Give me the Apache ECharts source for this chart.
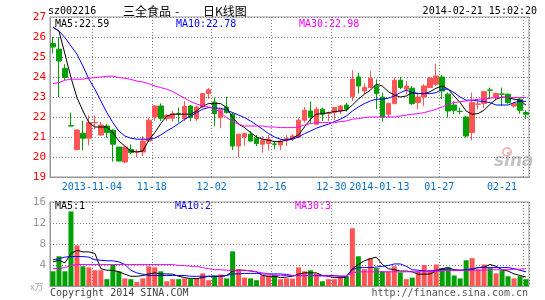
<!DOCTYPE html>
<html>
<head>
<meta charset="utf-8">
<script src="https://cdn.jsdelivr.net/npm/echarts@6/dist/echarts.min.js"></script>
<style>
  html,body{margin:0;padding:0;background:#fff;}
  #main{width:545px;height:300px;}
</style>
</head>
<body>
<div id="main"></div>
<script>
// trading days, 2013-10-24 .. 2014-02-21
let dates = ['2013-10-24','2013-10-25','2013-10-28','2013-10-29','2013-10-30','2013-10-31','2013-11-01','2013-11-04','2013-11-05','2013-11-06',
  '2013-11-07','2013-11-08','2013-11-11','2013-11-12','2013-11-13','2013-11-14','2013-11-15','2013-11-18','2013-11-19','2013-11-20',
  '2013-11-21','2013-11-22','2013-11-25','2013-11-26','2013-11-27','2013-11-28','2013-11-29','2013-12-02','2013-12-03','2013-12-04',
  '2013-12-05','2013-12-06','2013-12-09','2013-12-10','2013-12-11','2013-12-12','2013-12-13','2013-12-16','2013-12-17','2013-12-18',
  '2013-12-19','2013-12-20','2013-12-23','2013-12-24','2013-12-25','2013-12-26','2013-12-27','2013-12-30','2013-12-31','2014-01-03',
  '2014-01-06','2014-01-07','2014-01-08','2014-01-09','2014-01-10','2014-01-13','2014-01-14','2014-01-15','2014-01-16','2014-01-17',
  '2014-01-20','2014-01-21','2014-01-22','2014-01-23','2014-01-24','2014-01-27','2014-01-28','2014-01-29','2014-01-30','2014-02-07',
  '2014-02-10','2014-02-11','2014-02-12','2014-02-13','2014-02-14','2014-02-17','2014-02-18','2014-02-19','2014-02-20','2014-02-21']

let tickDates = ['2013-11-04','2013-11-18','2013-12-02','2013-12-16','2013-12-30','2014-01-13','2014-01-27','2014-02-21']
let tickLabels = ['2013-11-04','11-18','12-02','12-16','12-30','2014-01-13','01-27','02-21']

let open = [25.67,25.39,24.42,21.56,20.37,21.19,20.94,21.71,21.1,21.55, 21.34,20.5,19.75,20.38,20.25,20.25,20.8,22.0,22.55,21.92,
  21.94,22.18,21.92,22.55,21.92,22.5,23.17,22.75,21.97,22.5, 22.14,20.55,21.0,21.14,20.94,20.64,20.67,20.65,20.6,20.84,
  20.92,21.0,21.84,22.3,21.64,22.39,22.17,22.22,22.3,22.6, 23.02,24.0,23.3,23.47,23.55,23.0,22.14,22.67,23.84,23.39,
  23.44,22.72,23.0,23.47,23.64,24.0,23.14,22.6,22.28,22.0, 21.22,22.64,22.67,23.35,23.0,23.15,23.14,22.55,22.89,22.22]
let close = [25.5,24.8,23.97,21.55,21.35,20.94,21.72,21.72,21.6,21.22, 20.64,19.8,20.5,20.22,20.26,20.8,21.84,22.55,21.94,22.08,
  22.17,22.17,22.53,21.97,22.5,23.17,23.36,22.17,22.39,22.22, 20.55,21.14,21.17,20.8,20.67,20.84,20.9,20.64,20.8,20.92,
  21.05,21.84,22.34,22.0,22.39,22.14,22.18,22.47,22.55,22.39, 23.9,23.55,23.47,23.94,23.17,22.0,22.67,23.84,23.47,23.55,
  22.67,23.0,23.55,23.94,24.05,23.3,22.3,22.34,22.27,21.05, 22.72,22.65,23.27,23.34,23.17,23.14,22.72,22.67,22.34,22.14]
let low = [25.17,23.0,23.84,21.55,20.33,20.33,20.58,21.39,21.07,20.97, 19.77,19.77,19.7,20.13,20.0,20.05,20.77,21.8,21.8,21.8,
  21.77,21.72,21.8,21.8,21.8,22.47,22.9,21.55,21.44,22.17, 20.34,20.0,20.55,20.77,20.55,20.22,20.34,20.39,20.34,20.55,
  20.8,20.94,21.72,21.67,21.64,21.8,21.8,21.84,22.14,22.27, 22.8,23.17,23.14,23.44,22.39,21.77,21.97,22.64,23.39,23.14,
  22.6,22.39,22.55,23.44,23.55,22.89,21.97,22.14,22.14,20.97, 20.84,22.39,22.44,22.89,22.84,22.55,22.67,22.47,22.17,21.89]
let high = [26.0,26.0,24.64,22.22,21.37,21.8,22.08,22.08,21.75,21.64, 21.39,20.5,20.55,20.63,20.38,21.05,21.97,22.6,22.67,22.14,
  22.3,22.47,22.8,22.6,22.55,23.2,23.45,22.97,22.4,23.02, 22.22,21.17,21.22,21.3,21.1,21.05,21.1,20.8,20.89,21.1,
  21.14,21.97,22.5,22.77,22.5,22.47,22.27,22.5,22.6,22.72, 24.34,24.22,23.67,24.3,23.88,23.22,22.72,23.97,24.0,23.8,
  23.55,23.22,23.64,24.0,24.67,24.1,23.22,22.8,22.47,22.05, 23.22,22.89,23.3,23.47,23.22,23.47,23.17,22.72,22.94,22.34]

let ma5 = [26.5,26.3,25.15,23.97,22.97,22.3,21.72,21.5,21.5,21.5, 21.22,20.8,20.55,20.3,20.25,20.3,20.84,21.22,21.67,22.05,
  22.14,22.14,22.14,22.14,22.3,22.55,22.67,22.67,22.67,22.47, 21.97,21.64,21.47,21.22,21.0,20.89,20.84,20.77,20.77,20.84,
  20.94,21.1,21.5,21.89,22.14,22.17,22.22,22.27,22.3,22.34, 22.6,22.89,23.14,23.34,23.64,23.55,23.27,23.1,23.0,23.05,
  23.22,23.17,23.17,23.27,23.44,23.55,23.39,23.05,22.72,22.3, 22.14,22.17,22.34,22.64,22.89,23.0,22.97,22.89,22.84,22.59]
let ma10 = [26.47,26.3,25.97,25.55,25.14,24.55,23.89,23.39,22.8,22.22, 21.72,21.3,21.05,20.94,20.89,20.89,20.89,20.94,21.1,21.3,
  21.47,21.67,21.89,22.05,22.22,22.39,22.47,22.44,22.44,22.34, 22.22,22.1,21.97,21.8,21.6,21.39,21.17,21.0,20.89,20.84,
  20.89,21.0,21.17,21.3,21.44,21.55,21.64,21.77,21.89,22.05, 22.3,22.5,22.67,22.8,22.89,22.89,22.94,23.05,23.22,23.34,
  23.22,23.17,23.17,23.17,23.22,23.39,23.39,23.22,23.0,22.84, 22.84,22.8,22.77,22.72,22.6,22.6,22.6,22.72,22.8,22.78]
let ma30 = [23.67,23.72,23.84,23.89,23.89,23.89,23.94,23.97,24.0,24.04, 24.04,23.97,23.94,23.88,23.8,23.75,23.67,23.55,23.47,23.39,
  23.27,23.1,22.94,22.77,22.65,22.57,22.5,22.44,22.22,21.97, 21.77,21.64,21.55,21.55,21.55,21.55,21.5,21.5,21.47,21.47,
  21.47,21.5,21.6,21.67,21.72,21.72,21.72,21.72,21.77,21.8, 21.89,21.92,21.97,22.0,22.0,22.0,22.0,22.0,22.05,22.09,
  22.14,22.17,22.22,22.3,22.39,22.5,22.64,22.72,22.77,22.8, 22.84,22.89,22.89,22.94,22.97,22.97,22.97,22.97,22.97,22.98]

// volume, 万手
let vol = [2.8,5.66,2.8,14.2,7.75,3.75,3.55,3.0,3.0,1.3, 4.1,2.8,1.45,1.3,0.75,1.45,3.75,3.55,2.8,0.9,
  1.3,1.3,1.45,1.3,1.45,2.4,1.1,2.0,2.2,1.45, 6.6,3.2,1.6,1.45,1.1,2.0,2.0,2.15,1.3,1.45,
  1.4,3.55,2.8,3.0,2.4,0.9,1.3,1.3,1.85,1.85, 11.0,5.66,3.2,5.3,3.4,2.8,2.8,3.75,2.6,1.3,
  1.6,2.8,4.0,3.0,4.1,3.4,3.55,2.0,1.45,4.9, 5.3,3.2,4.1,3.4,2.4,3.0,1.85,1.45,1.85,1.3]
let volMa5 = [4.6,4.9,4.4,6.2,6.8,6.5,6.5,6.2,3.3,3.0, 3.0,2.7,2.25,1.85,1.85,2.0,2.3,2.5,2.3,2.3,
  2.25,1.85,1.6,1.4,1.4,1.6,1.85,1.85,1.85,2.0, 2.85,3.0,3.0,2.85,2.7,2.0,1.85,1.85,1.6,1.7,
  1.85,2.25,2.5,2.5,2.5,2.0,1.85,1.6,1.6,1.7, 3.3,4.1,4.8,5.2,5.5,4.1,3.3,3.1,2.85,2.85,
  2.7,2.25,2.25,2.3,2.85,3.3,3.5,3.1,3.0,3.0, 3.1,3.5,3.6,4.1,3.75,3.1,2.85,2.3,2.0,1.7]
let volMa10 = [5.0,5.2,5.5,5.6,5.6,5.6,5.5,5.0,4.9,4.8, 4.8,4.6,4.1,3.0,2.5,2.25,2.0,2.0,2.0,2.0,
  2.0,2.0,2.0,1.85,1.85,1.85,1.85,1.85,1.85,2.0, 2.3,2.3,2.4,2.4,2.4,2.3,2.3,2.3,2.3,2.2,
  2.0,2.0,2.0,2.0,2.0,2.0,2.0,2.0,1.85,1.85, 3.1,3.5,3.5,3.5,3.6,3.75,3.9,4.2,4.2,3.75,
  3.1,3.0,2.85,2.85,3.0,3.1,3.1,3.0,3.0,3.1, 3.3,3.5,3.5,3.5,3.5,3.5,3.5,3.3,3.0,2.7]
let volMa30 = [3.3,3.3,3.5,3.9,4.1,4.1,4.1,4.1,4.1,4.1, 4.1,4.1,4.1,4.1,4.1,4.1,4.1,4.1,4.1,4.1,
  4.1,3.9,3.9,3.75,3.75,3.5,3.3,3.1,3.1,3.0, 3.0,3.0,3.0,2.9,2.7,2.5,2.3,2.0,2.0,2.0,
  1.95,1.95,1.95,1.95,1.9,1.9,1.9,1.9,1.9,1.9, 2.5,2.7,2.7,2.7,2.7,2.7,2.7,2.7,2.7,2.7,
  2.7,2.7,2.7,2.75,2.8,2.9,3.0,3.0,3.0,3.0, 3.0,3.0,3.0,3.1,3.1,3.1,3.1,3.2,3.2,3.3]

let upColor = '#ff5555'
let downColor = '#00a000'
let mono = '"DejaVu Sans Mono", monospace'

let kdata = dates.map((d, i) => [open[i], close[i], low[i], high[i]])
let isTick = (i, v) => tickDates.indexOf(v) >= 0

let instance = echarts.init(document.getElementById('main'))

let gridLine = { show: true, lineStyle: { color: '#808080', type: [1, 2], width: 1 } }

function maLine(name, data, color, xi, yi) {
  return {
    name: name, type: 'line', data: data, xAxisIndex: xi, yAxisIndex: yi,
    symbol: 'none', silent: true,
    lineStyle: { color: color, width: 1 }
  }
}

function txt(text, x, y, color, font, align) {
  return {
    type: 'text', x: x, y: y, silent: true,
    style: { text: text, fill: color, font: font, align: align || 'left', verticalAlign: 'middle' }
  }
}

let option = {
  animation: false,
  grid: [
    { left: 50, top: 17, width: 479, height: 160, show: true, borderColor: '#999', borderWidth: 1 },
    { left: 50, top: 202, width: 479, height: 84, show: true, borderColor: '#999', borderWidth: 1 }
  ],
  xAxis: [
    {
      type: 'category', data: dates, gridIndex: 0, boundaryGap: true,
      axisLine: { lineStyle: { color: '#999' } },
      axisTick: { show: false },
      axisLabel: {
        interval: isTick,
        margin: 5,
        color: '#0a6fc2',
        fontFamily: mono,
        fontSize: 10,
        formatter: function (v) {
          let k = tickDates.indexOf(v)
          if (k < 0) return ''
          return k === tickDates.length - 1 ? '{e|' + tickLabels[k] + '}' : '{n|' + tickLabels[k] + '}'
        },
        rich: {
          n: { padding: [0, 6, 0, 0], color: '#0a6fc2', fontFamily: mono, fontSize: 10 },
          e: { padding: [0, 48, 0, 0], color: '#0a6fc2', fontFamily: mono, fontSize: 10 }
        }
      },
      splitLine: Object.assign({ interval: isTick }, gridLine)
    },
    {
      type: 'category', data: dates, gridIndex: 1, boundaryGap: true,
      axisLine: { lineStyle: { color: '#999' } },
      axisTick: { show: false },
      axisLabel: { show: false },
      splitLine: Object.assign({ interval: isTick }, gridLine)
    }
  ],
  yAxis: [
    {
      type: 'value', gridIndex: 0, min: 19, max: 27, interval: 1,
      axisLine: { show: true, lineStyle: { color: '#999' } },
      axisTick: { show: false },
      axisLabel: { color: '#ff0000', fontFamily: mono, fontSize: 11, margin: 4 },
      splitLine: gridLine
    },
    {
      type: 'value', gridIndex: 1, min: 0, max: 16, interval: 4,
      axisLine: { show: true, lineStyle: { color: '#999' } },
      axisTick: { show: false },
      axisLabel: {
        color: '#999', fontFamily: mono, fontSize: 11, margin: 4,
        formatter: v => (v === 0 ? '' : v)
      },
      splitLine: gridLine
    }
  ],
  series: [
    {
      name: 'K', type: 'candlestick', data: kdata, xAxisIndex: 0, yAxisIndex: 0,
      barWidth: 5,
      itemStyle: { color: upColor, color0: downColor, borderColor: upColor, borderColor0: downColor, borderWidth: 1 }
    },
    maLine('MA5', ma5, '#000000', 0, 0),
    maLine('MA10', ma10, '#0000ff', 0, 0),
    maLine('MA30', ma30, '#ff00ff', 0, 0),
    {
      name: 'VOL', type: 'bar', data: vol, xAxisIndex: 1, yAxisIndex: 1,
      barWidth: 5,
      itemStyle: {
        color: p => (close[p.dataIndex] >= open[p.dataIndex] ? upColor : downColor)
      }
    },
    maLine('VMA5', volMa5, '#000000', 1, 1),
    maLine('VMA10', volMa10, '#0000ff', 1, 1),
    maLine('VMA30', volMa30, '#ff00ff', 1, 1)
  ],
  graphic: [
    txt('sz002216', 48, 11, '#000', '10px ' + mono),
    txt('三全食品', 123, 11, '#000', '12px "Noto Sans CJK SC"'),
    txt('-', 175, 11, '#000', '12px "Noto Sans CJK SC"'),
    txt('日K线图', 203, 11, '#000', '12px "Noto Sans CJK SC"'),
    txt('2014-02-21 15:02:20', 537, 11, '#000', '10px ' + mono, 'right'),
    txt('MA5:' + ma5[ma5.length - 1].toFixed(2), 55, 24, '#000', '10px ' + mono),
    txt('MA10:' + ma10[ma10.length - 1].toFixed(2), 176, 24, '#0000ff', '10px ' + mono),
    txt('MA30:' + ma30[ma30.length - 1].toFixed(2), 299, 24, '#ff00ff', '10px ' + mono),
    txt('MA5:' + Math.floor(volMa5[volMa5.length - 1]), 55, 206, '#000', '10px ' + mono),
    txt('MA10:' + Math.floor(volMa10[volMa10.length - 1]), 175, 206, '#0000ff', '10px ' + mono),
    txt('MA30:' + Math.floor(volMa30[volMa30.length - 1]), 295, 206, '#ff00ff', '10px ' + mono),
    txt('x万', 30, 287, '#aaa', '9px "Noto Sans CJK SC"'),
    txt('Copyright 2014 SINA.COM', 50, 293, '#444', '10px ' + mono),
    txt('http://finance.sina.com.cn', 528, 293, '#555', '10px ' + mono, 'right'),
    txt('sina', 494, 162, '#c4c4c4', 'italic bold 17px "DejaVu Sans"'),
    { type: 'circle', shape: { cx: 507, cy: 152, r: 4 }, style: { fill: 'none', stroke: '#f2b8b8', lineWidth: 2 }, silent: true }
  ]
}
instance.setOption(option)
</script>
</body>
</html>
